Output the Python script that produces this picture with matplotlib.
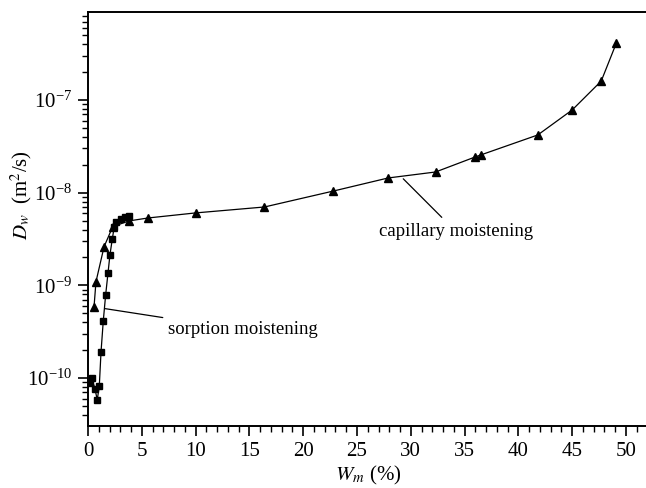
import numpy as np
import matplotlib
matplotlib.use("Agg")
import matplotlib.pyplot as plt
from matplotlib.ticker import LogLocator, MultipleLocator, NullFormatter

plt.rcParams['font.family'] = ['Liberation Serif', 'DejaVu Serif']
plt.rcParams['mathtext.fontset'] = 'stix'

# capillary moistening (triangles)
w_cap = [0.56, 0.74, 1.49, 2.3, 3.8, 5.6, 10.0, 16.4, 22.8, 27.9, 32.3, 36.0, 36.5, 41.8, 45.0, 47.7, 49.1]
d_cap = [5.85e-10, 1.09e-9, 2.6e-9, 4.3e-9, 4.95e-9, 5.33e-9, 6.04e-9, 7.0e-9, 1.04e-8, 1.44e-8,
         1.67e-8, 2.43e-8, 2.55e-8, 4.19e-8, 7.8e-8, 1.6e-7, 4.1e-7]

# sorption moistening (squares)
w_sor = [0.19, 0.34, 0.65, 0.86, 1.05, 1.21, 1.42, 1.64, 1.86, 2.04, 2.26, 2.44, 2.60, 3.03, 3.44, 3.84]
d_sor = [8.85e-11, 1.0e-10, 7.6e-11, 5.8e-11, 8.2e-11, 1.91e-10, 4.13e-10, 7.87e-10, 1.36e-9, 2.13e-9,
         3.17e-9, 4.27e-9, 4.83e-9, 5.2e-9, 5.47e-9, 5.6e-9]

fig = plt.figure(figsize=(6.46, 4.88), dpi=100)
ax = fig.add_axes([88/646, 62/488, 559.5/646, 414/488])

ax.plot(w_cap, d_cap, '-^', color='black', lw=0.9, ms=6, mec='black', mfc='black')
ax.plot(w_sor, d_sor, '-s', color='black', lw=0.9, ms=5, mec='black', mfc='black')

ax.set_yscale('log')
ax.set_xlim(0, 52)
ax.set_ylim(3.03e-11, 8.9e-7)

ax.xaxis.set_major_locator(MultipleLocator(5))
ax.xaxis.set_minor_locator(MultipleLocator(1))
ax.yaxis.set_major_locator(LogLocator(base=10, numticks=10))
ax.yaxis.set_minor_locator(LogLocator(base=10, subs=np.arange(2, 10), numticks=20))
ax.yaxis.set_minor_formatter(NullFormatter())

ax.tick_params(which='major', direction='out', length=7.5, width=1.2, labelsize=15, pad=4)
ax.tick_params(which='minor', direction='out', length=4, width=1.0)
ax.tick_params(top=False, right=False)

ax.spines['right'].set_visible(False)
for s in ['left', 'bottom', 'top']:
    ax.spines[s].set_linewidth(1.4)

ax.set_xlabel(r'$W_m$ (%)', fontsize=15, labelpad=2)
ax.set_ylabel(r'$D_w$  (m$^2$/s)', fontsize=15)
ax.yaxis.set_label_coords(-0.097, 0.558)

ax.annotate('sorption moistening', xy=(1.58, 5.6e-10), xytext=(7.4, 3.3e-10),
            fontsize=13.5, va='center', ha='left',
            arrowprops=dict(arrowstyle='-', color='black', lw=0.9, shrinkA=5, shrinkB=0))
ax.annotate('capillary moistening', xy=(29.3, 1.41e-8), xytext=(34.2, 3.8e-9),
            fontsize=13.5, va='center', ha='center',
            arrowprops=dict(arrowstyle='-', color='black', lw=0.9, shrinkA=3, shrinkB=0))

fig.savefig('out.png', dpi=100)
